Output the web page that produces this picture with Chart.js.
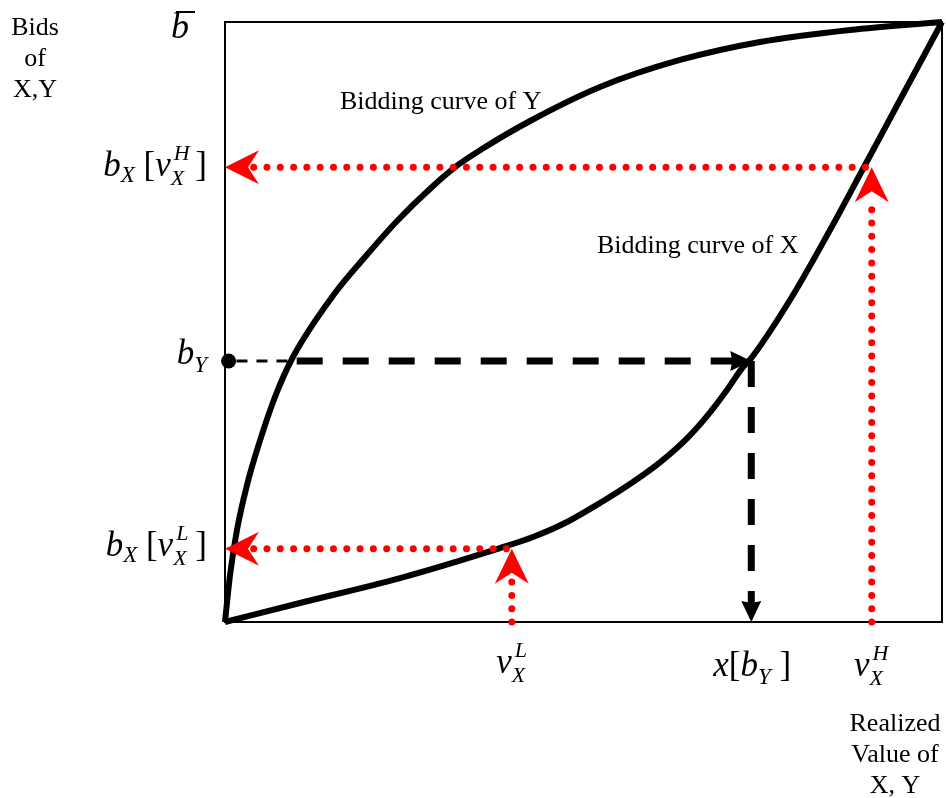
<!DOCTYPE html>
<html>
<head>
<meta charset="utf-8">
<script src="https://cdn.jsdelivr.net/npm/chart.js@4"></script>
<style>
  html, body { margin: 0; padding: 0; background: #fff; overflow: hidden; }
  #wrap { width: 946px; height: 798px; position: relative; }
</style>
</head>
<body>
<div id="wrap"><canvas id="grafik"></canvas></div>
<script>
// Realized value (x) and bid (y), both on a 0..100 scale
const curveYx = [0, 0.7, 1.67, 3.07, 4.6, 6.97, 9.48, 15.34, 19.53, 24.13, 28.87, 32.5, 35.84, 42.54, 52.3, 63.46, 74.62, 87.17, 100];
const curveYy = [0, 7.83, 15.33, 22.83, 29.17, 37.5, 44.17, 54.83, 60.83, 67, 72.5, 76.17, 78.83, 83.5, 89.17, 93.67, 96.67, 98.67, 100];

const curveXx = [0, 10.46, 24.41, 38.35, 42.96, 47.7, 52.3, 56.9, 60.67, 64.44, 67.22, 70.01, 72.25, 73.08, 78.8, 84.38, 89.12, 94.14, 100];
const curveXy = [0, 3.17, 7.33, 12.33, 14.17, 16.67, 19.83, 23.33, 26.6, 30.6, 34.3, 38.67, 42.5, 43.5, 53.67, 65.33, 75.83, 87, 100];

// marked values
const vL = 40, bL = 12.2;     // v_X^L and b_X[v_X^L]
const vH = 90.2, bH = 75.8;   // v_X^H and b_X[v_X^H]
const bY = 43.5, xbY = 73.4;  // b_Y and x[b_Y]

const pts = (xs, ys) => xs.map((x, i) => ({ x: x, y: ys[i] }));

const FONT = '"Liberation Serif", "Times New Roman", serif';

// draws a small math label made from pieces (italic, sub/superscripts)
function mathLabel(ctx, x, y, parts, align) {
    const w = parts.map(p => {
        if (p.sup !== undefined) {
            ctx.font = 'italic ' + p.s + 'px ' + FONT;
            return Math.max(ctx.measureText(p.sup).width, ctx.measureText(p.sub).width);
        }
        ctx.font = (p.it ? 'italic ' : '') + p.s + 'px ' + FONT;
        return ctx.measureText(p.t).width;
    });
    const total = w.reduce((a, b) => a + b, 0);
    let cx = align === 'right' ? x - total : (align === 'center' ? x - total / 2 : x);
    parts.forEach((p, i) => {
        if (p.sup !== undefined) {
            ctx.font = 'italic ' + p.s + 'px ' + FONT;
            ctx.fillText(p.sup, cx + 3, y - 16);
            ctx.fillText(p.sub, cx, y + 9);
        } else {
            ctx.font = (p.it ? 'italic ' : '') + p.s + 'px ' + FONT;
            ctx.fillText(p.t, cx, y + (p.dy || 0));
        }
        cx += w[i];
    });
}

// stealth style arrow head, tip at (x, y), pointing in direction ang
function arrowHead(ctx, x, y, ang, len, half, notch, color) {
    ctx.save();
    ctx.translate(x, y);
    ctx.rotate(ang);
    ctx.fillStyle = color;
    ctx.beginPath();
    ctx.moveTo(0, 0);
    ctx.lineTo(-len, -half);
    ctx.lineTo(-len + notch, 0);
    ctx.lineTo(-len, half);
    ctx.closePath();
    ctx.fill();
    ctx.restore();
}

const decorPlugin = {
    id: 'decor',
    beforeDatasetsDraw(chart) {
        const { ctx, chartArea: a } = chart;
        ctx.save();
        ctx.strokeStyle = '#000';
        ctx.lineWidth = 2;
        ctx.strokeRect(a.left, a.top, a.right - a.left, a.bottom - a.top);
        ctx.restore();
    },
    afterDatasetsDraw(chart) {
        const { ctx, scales: { x, y } } = chart;
        ctx.save();
        // arrow heads
        const red = '#ff0000';
        arrowHead(ctx, x.getPixelForValue(0), y.getPixelForValue(bL), Math.PI, 34, 17, 11, red);
        arrowHead(ctx, x.getPixelForValue(vL), y.getPixelForValue(bL), -Math.PI / 2, 35, 17, 11, red);
        arrowHead(ctx, x.getPixelForValue(0), y.getPixelForValue(bH), Math.PI, 34, 17, 11, red);
        arrowHead(ctx, x.getPixelForValue(vH), y.getPixelForValue(bH), -Math.PI / 2, 35, 17, 11, red);
        arrowHead(ctx, x.getPixelForValue(xbY), y.getPixelForValue(bY), 0, 21, 10, 2, '#000');
        arrowHead(ctx, x.getPixelForValue(xbY), y.getPixelForValue(0), Math.PI / 2, 21, 10, 2, '#000');

        // texts
        ctx.fillStyle = '#000';
        ctx.textBaseline = 'alphabetic';
        ctx.textAlign = 'left';
        ctx.font = '26px ' + FONT;
        ['Bids', 'of', 'X,Y'].forEach((t, i) => {
            const wd = ctx.measureText(t).width;
            ctx.fillText(t, 35 - wd / 2, 35 + i * 31);
        });
        ['Realized', 'Value of', 'X, Y'].forEach((t, i) => {
            const wd = ctx.measureText(t).width;
            ctx.fillText(t, 895 - wd / 2, 731 + i * 31);
        });
        ctx.fillText('Bidding curve of Y', 340, 109);
        ctx.fillText('Bidding curve of X', 597, 253);

        // b bar
        ctx.font = 'italic 36px ' + FONT;
        ctx.fillText('b', 171, 38);
        ctx.fillRect(176, 11, 19, 2);

        const lx = x.getPixelForValue(0) - 18;
        mathLabel(ctx, lx, y.getPixelForValue(bH) + 9, [
            { t: 'b', it: 1, s: 35 }, { t: 'X', it: 1, s: 23, dy: 6 }, { t: ' [', s: 35 },
            { t: 'v', it: 1, s: 35 }, { sup: 'H', sub: 'X', s: 22 }, { t: ' ]', s: 35 }
        ], 'right');
        mathLabel(ctx, lx, y.getPixelForValue(bL) + 7, [
            { t: 'b', it: 1, s: 35 }, { t: 'X', it: 1, s: 23, dy: 6 }, { t: ' [', s: 35 },
            { t: 'v', it: 1, s: 35 }, { sup: 'L', sub: 'X', s: 22 }, { t: ' ]', s: 35 }
        ], 'right');
        mathLabel(ctx, lx, y.getPixelForValue(bY) + 3, [
            { t: 'b', it: 1, s: 35 }, { t: 'Y', it: 1, s: 23, dy: 8 }
        ], 'right');
        const by = y.getPixelForValue(0) + 54;
        mathLabel(ctx, x.getPixelForValue(vL) - 1, by - 3, [
            { t: 'v', it: 1, s: 35 }, { sup: 'L', sub: 'X', s: 22 }
        ], 'center');
        mathLabel(ctx, x.getPixelForValue(xbY) + 1, by, [
            { t: 'x', it: 1, s: 35 }, { t: '[', s: 35 }, { t: 'b', it: 1, s: 35 },
            { t: 'Y', it: 1, s: 23, dy: 8 }, { t: ' ]', s: 35 }
        ], 'center');
        mathLabel(ctx, x.getPixelForValue(vH) - 2, by, [
            { t: 'v', it: 1, s: 35 }, { sup: 'H', sub: 'X', s: 22 }
        ], 'center');
        ctx.restore();
    }
};

const redDots = {
    borderColor: '#ff0000',
    borderWidth: 7,
    borderDash: [0, 13.3],
    borderCapStyle: 'round',
    pointRadius: 0,
    showLine: true,
    clip: false
};
const blackDash = {
    borderColor: '#000',
    borderWidth: 7,
    borderDash: [26, 20],
    borderCapStyle: 'butt',
    pointRadius: 0,
    showLine: true,
    clip: false
};
const curveStyle = {
    showLine: true,
    borderColor: '#000',
    borderWidth: 6,
    cubicInterpolationMode: 'monotone',
    pointRadius: 0,
    clip: false
};

const config = {
    type: 'scatter',
    data: {
        datasets: [
            Object.assign({ data: [{ x: 4, y: bL }, { x: vL, y: bL }] }, redDots),
            Object.assign({ data: [{ x: vL, y: 0 }, { x: vL, y: bL - 5 }] }, redDots),
            Object.assign({ data: [{ x: 4, y: bH }, { x: vH, y: bH }] }, redDots),
            Object.assign({ data: [{ x: vH, y: 0 }, { x: vH, y: bH - 5 }] }, redDots),
            Object.assign({}, blackDash, { data: [{ x: 1.6, y: bY }, { x: 9.2, y: bY }], borderWidth: 3, borderDash: [11, 9] }),
            Object.assign({ data: [{ x: 10, y: bY }, { x: xbY - 2.5, y: bY }] }, blackDash),
            Object.assign({ data: [{ x: xbY, y: bY }, { x: xbY, y: 2 }] }, blackDash),
            Object.assign({ label: 'Bidding curve of Y', data: pts(curveYx, curveYy) }, curveStyle),
            Object.assign({ label: 'Bidding curve of X', data: pts(curveXx, curveXy) }, curveStyle),
            {
                data: [{ x: 0.5, y: bY }],
                pointRadius: 7.5,
                pointBackgroundColor: '#000',
                pointBorderWidth: 0,
                clip: false
            }
        ]
    },
    options: {
        responsive: true,
        maintainAspectRatio: false,
        animation: false,
        layout: { autoPadding: false, padding: { left: 225, right: 4, top: 22, bottom: 176 } },
        plugins: {
            legend: { display: false },
            tooltip: { enabled: false },
            title: { display: false }
        },
        scales: {
            x: { type: 'linear', min: 0, max: 100, display: false },
            y: { type: 'linear', min: 0, max: 100, display: false }
        }
    },
    plugins: [decorPlugin]
};

const ctx = document.getElementById('grafik').getContext('2d');
new Chart(ctx, config);
</script>
</body>
</html>
